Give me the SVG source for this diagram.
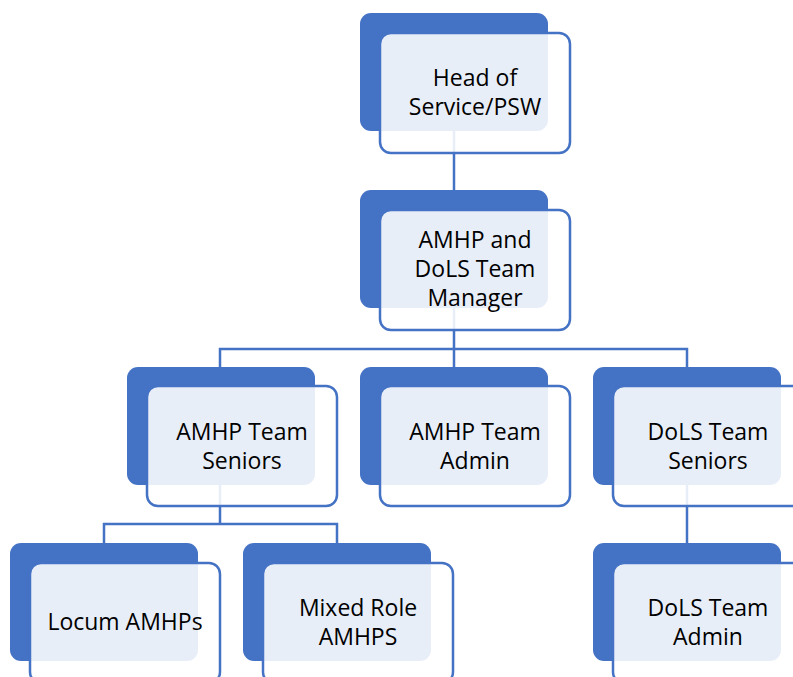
<svg xmlns="http://www.w3.org/2000/svg" width="793" height="677" viewBox="0 0 793 677">
<style>
.back{fill:#4472C4}
.front{fill:#FFFFFF;fill-opacity:0.88;stroke:#4472C4;stroke-width:2.5}
.lbl{font-family:"Open Sans","Noto Sans",sans-serif;font-size:23px;fill:#000;text-anchor:middle}
.conn{fill:none;stroke:#4472C4;stroke-width:2.5}
</style>
<rect width="793" height="677" fill="#FFFFFF"/>
<g id="connectors">
<path class="conn" d="M454 131 V190"/>
<path class="conn" d="M454 308 V349 M220 367 V349 H687 V367 M454 349 V367"/>
<path class="conn" d="M220 485 V524 M104 543 V524 H337 V543"/>
<path class="conn" d="M687 485 V543"/>
</g>
<g id="head">
<rect class="back" x="360" y="13" width="188" height="118" rx="11"/>
<rect class="front" x="380" y="33" width="190" height="120" rx="11"/>
<text class="lbl" x="475" y="86">Head of</text>
<text class="lbl" x="475" y="115">Service/PSW</text>
</g>
<g id="manager">
<rect class="back" x="360" y="190" width="188" height="118" rx="11"/>
<rect class="front" x="380" y="210" width="190" height="120" rx="11"/>
<text class="lbl" x="475" y="248">AMHP and</text>
<text class="lbl" x="475" y="277">DoLS Team</text>
<text class="lbl" x="475" y="306">Manager</text>
</g>
<g id="amhp-seniors">
<rect class="back" x="127" y="367" width="188" height="118" rx="11"/>
<rect class="front" x="147" y="386" width="190" height="120" rx="11"/>
<text class="lbl" x="242" y="440">AMHP Team</text>
<text class="lbl" x="242" y="469">Seniors</text>
</g>
<g id="amhp-admin">
<rect class="back" x="360" y="367" width="188" height="118" rx="11"/>
<rect class="front" x="380" y="386" width="190" height="120" rx="11"/>
<text class="lbl" x="475" y="440">AMHP Team</text>
<text class="lbl" x="475" y="469">Admin</text>
</g>
<g id="dols-seniors">
<rect class="back" x="593" y="367" width="188" height="118" rx="11"/>
<rect class="front" x="613" y="386" width="190" height="120" rx="11"/>
<text class="lbl" x="708" y="440">DoLS Team</text>
<text class="lbl" x="708" y="469">Seniors</text>
</g>
<g id="locum">
<rect class="back" x="10" y="543" width="188" height="118" rx="11"/>
<rect class="front" x="30" y="563" width="190" height="120" rx="11"/>
<text class="lbl" x="125" y="630">Locum AMHPs</text>
</g>
<g id="mixed">
<rect class="back" x="243" y="543" width="188" height="118" rx="11"/>
<rect class="front" x="263" y="563" width="190" height="120" rx="11"/>
<text class="lbl" x="358" y="616">Mixed Role</text>
<text class="lbl" x="358" y="645">AMHPS</text>
</g>
<g id="dols-admin">
<rect class="back" x="593" y="543" width="188" height="118" rx="11"/>
<rect class="front" x="613" y="563" width="190" height="120" rx="11"/>
<text class="lbl" x="708" y="616">DoLS Team</text>
<text class="lbl" x="708" y="645">Admin</text>
</g>
</svg>
